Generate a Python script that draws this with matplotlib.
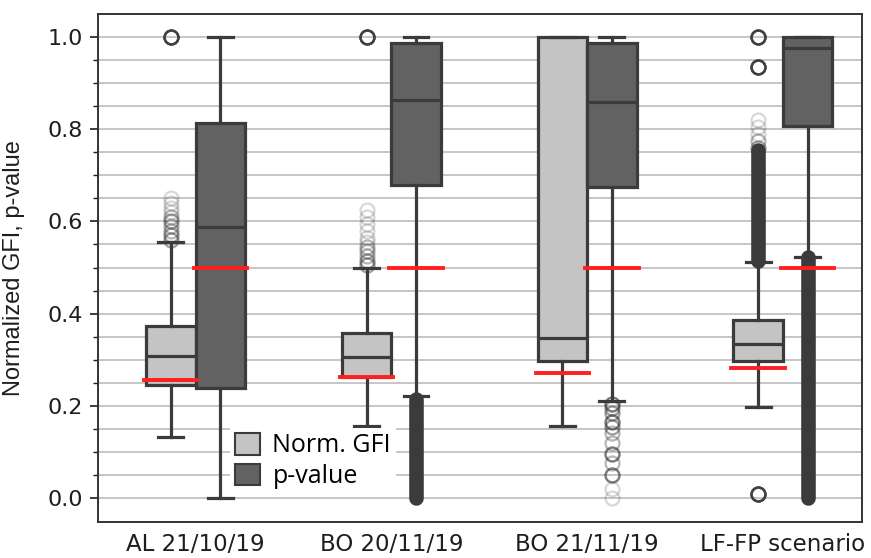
import numpy as np
import matplotlib
matplotlib.use("Agg")
import matplotlib.pyplot as plt
from matplotlib.patches import Patch

# -----------------------------------
# DATA
# -----------------------------------
groups = ["AL 21/10/19", "BO 20/11/19", "BO 21/11/19", "LF-FP scenario"]
series = ["Norm. GFI", "p-value"]

# box statistics, one list per series, one value per group
gfi_q1 = [0.245, 0.263, 0.297, 0.297]
gfi_med = [0.309, 0.307, 0.347, 0.334]
gfi_q3 = [0.373, 0.359, 1.000, 0.387]
gfi_lo = [0.133, 0.157, 0.157, 0.197]
gfi_hi = [0.556, 0.499, 1.000, 0.513]

pv_q1 = [0.239, 0.679, 0.675, 0.808]
pv_med = [0.589, 0.863, 0.860, 0.976]
pv_q3 = [0.813, 0.988, 0.988, 1.000]
pv_lo = [0.000, 0.222, 0.210, 0.522]
pv_hi = [1.000, 1.000, 1.000, 1.000]

# outliers: values and how many points sit on each value
gfi_fliers = [
    [0.56, 0.57, 0.58, 0.59, 0.60, 0.61, 0.62, 0.63, 0.64, 0.65, 1.0],
    [0.505, 0.515, 0.525, 0.535, 0.545, 0.555, 0.565, 0.58, 0.595, 0.61, 0.625, 1.0],
    [],
    [0.76, 0.775, 0.79, 0.805, 0.82, 0.934, 1.0, 0.009],
]
gfi_flier_counts = [
    [3, 3, 2, 2, 3, 2, 1, 1, 1, 1, 15],
    [3, 3, 2, 2, 2, 1, 1, 1, 1, 1, 1, 15],
    [],
    [3, 2, 1, 1, 1, 15, 15, 15],
]
pv_fliers = [
    [],
    [],
    [0.205, 0.195, 0.185, 0.165, 0.155, 0.14, 0.12, 0.095, 0.075, 0.05, 0.02, 0.0],
    [],
]
pv_flier_counts = [
    [],
    [],
    [5, 3, 3, 5, 3, 2, 2, 5, 2, 5, 1, 1],
    [],
]

# ranges packed so densely with outliers that they form a solid column
gfi_dense = [None, None, None, (0.515, 0.755)]
pv_dense = [None, (0.0, 0.215), None, (0.0, 0.522)]

# reference (threshold) values drawn in red
gfi_ref = [0.256, 0.262, 0.272, 0.283]
pv_ref = [0.5, 0.5, 0.5, 0.5]

# -----------------------------------
# STYLE
# -----------------------------------
light = "#c4c4c4"
dark = "#626262"
edge = "#3b3b3b"
red = "#ff1f1f"
box_w = 0.253

fig = plt.figure(figsize=(8.71, 5.58), dpi=100)
ax = fig.add_axes([98 / 871, 1 - 522 / 558, 764 / 871, 508 / 558])

x = np.arange(len(groups))


def make_stats(q1, med, q3, lo, hi, fl, cnt):
    stats = []
    for i in range(len(q1)):
        stats.append({
            "med": med[i], "q1": q1[i], "q3": q3[i],
            "whislo": lo[i], "whishi": hi[i],
            "fliers": np.repeat(fl[i], cnt[i]) if fl[i] else np.array([]),
        })
    return stats


def draw(stats, pos, face, dense, ref):
    ax.bxp(
        stats, positions=pos, widths=box_w, capwidths=box_w * 0.5,
        patch_artist=True, manage_ticks=False, zorder=3,
        boxprops=dict(facecolor=face, edgecolor=edge, linewidth=2.3),
        medianprops=dict(color=edge, linewidth=2.3),
        whiskerprops=dict(color=edge, linewidth=2.3),
        capprops=dict(color=edge, linewidth=2.3),
        flierprops=dict(marker="o", markersize=10, markerfacecolor="none",
                        markeredgecolor=edge, markeredgewidth=1.6, alpha=0.2),
    )
    for p, d in zip(pos, dense):
        if d is not None:
            ax.plot([p, p], d, color=edge, linewidth=10.5,
                    solid_capstyle="round", zorder=2.5)
    for p, r in zip(pos, ref):
        ax.plot([p - box_w / 2 - 0.01, p + box_w / 2 + 0.01], [r, r],
                color=red, linewidth=2.8, zorder=5)


draw(make_stats(gfi_q1, gfi_med, gfi_q3, gfi_lo, gfi_hi, gfi_fliers, gfi_flier_counts),
     x - box_w / 2, light, gfi_dense, gfi_ref)
draw(make_stats(pv_q1, pv_med, pv_q3, pv_lo, pv_hi, pv_fliers, pv_flier_counts),
     x + box_w / 2, dark, pv_dense, pv_ref)

# -----------------------------------
# AXES
# -----------------------------------
ax.set_xlim(-0.498, 3.404)
ax.set_ylim(-0.052, 1.05)
ax.set_xticks(x)
ax.set_xticklabels(groups, fontsize=16.5, family="DejaVu Sans")
ax.set_yticks(np.arange(0, 1.01, 0.2))
ax.set_yticks(np.arange(0, 1.01, 0.05), minor=True)
ax.set_yticklabels([f"{v:.1f}" for v in np.arange(0, 1.01, 0.2)],
                   fontsize=16, family="DejaVu Sans")
ax.tick_params(axis="x", length=0, pad=8, colors="#1e1e1e")
ax.tick_params(axis="y", which="major", length=6, width=1.2, pad=5, colors="#1e1e1e")
ax.tick_params(axis="y", which="minor", length=3.6, width=1.0, color="#1e1e1e")
ax.grid(axis="y", which="both", color="#c2c2c2", linewidth=1.3, zorder=0)
ax.set_axisbelow(True)
for s in ax.spines.values():
    s.set_color("#333333")
    s.set_linewidth(1.4)

ax.set_ylabel("Normalized GFI, p-value", fontsize=17, family="Liberation Sans",
              color="#1e1e1e")
ax.yaxis.set_label_coords(-0.095, 0.5)

handles = [Patch(facecolor=light, edgecolor=edge, linewidth=1.5),
           Patch(facecolor=dark, edgecolor=edge, linewidth=1.5)]
leg = ax.legend(handles, series, loc="upper left",
                bbox_to_anchor=(230 / 871, 1 - 428 / 558),
                bbox_transform=fig.transFigure,
                prop={"family": "Open Sans", "size": 18},
                handlelength=1.0, handleheight=0.95, handletextpad=0.5,
                labelspacing=0.22, borderpad=0.2, borderaxespad=0,
                frameon=True, fancybox=False, facecolor="white",
                edgecolor="none", framealpha=1.0)
leg.set_zorder(6)

plt.savefig("out.png", dpi=100)
